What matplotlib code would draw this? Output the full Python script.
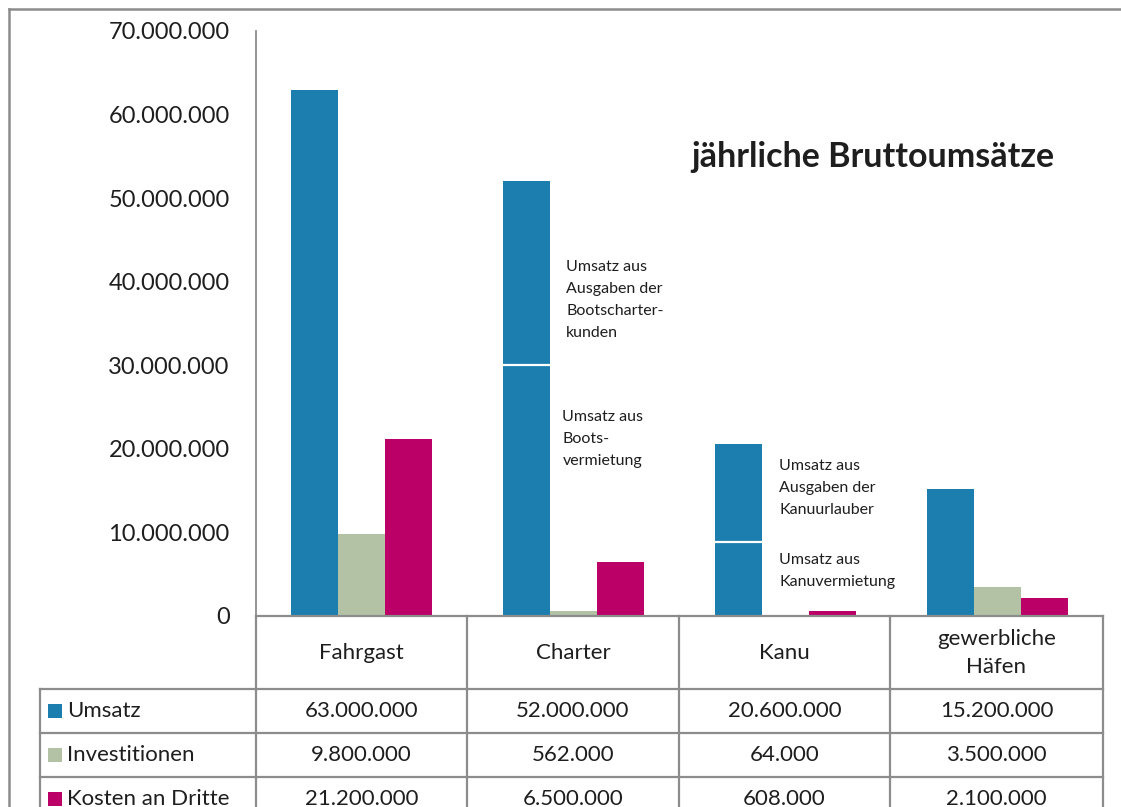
import numpy as np
import matplotlib.pyplot as plt
from matplotlib.lines import Line2D
from matplotlib.patches import Rectangle

plt.rcParams['font.family'] = ['Lato', 'DejaVu Sans']

# Data
categories = ['Fahrgast', 'Charter', 'Kanu', 'gewerbliche\nHäfen']
series_names = ['Umsatz', 'Investitionen', 'Kosten an Dritte']
umsatz = [63_000_000, 52_000_000, 20_600_000, 15_200_000]
investitionen = [9_800_000, 562_000, 64_000, 3_500_000]
kosten = [21_200_000, 6_500_000, 608_000, 2_100_000]
# Split of Umsatz into rental vs. spending of customers (Charter, Kanu)
umsatz_split = [None, 30_000_000, 8_800_000, None]
yticks = np.arange(0, 70_000_001, 10_000_000)

colors = ['#1b7eae', '#b3c2a5', '#bb0068']
grid_col = '#8c8c8c'
txt_col = '#1e1e1e'

W, H = 1121, 807
fig = plt.figure(figsize=(W / 100, H / 100), dpi=100)

def fx(px):
    return px / W

def fy(py):
    return 1 - py / H

# plot area in pixel coordinates
x0, x1 = 256, 1103
y_top, y_zero = 31, 616
ax = fig.add_axes([fx(x0), fy(y_zero), fx(x1) - fx(x0), fy(y_top) - fy(y_zero)])
ax.set_xlim(-0.5, 3.5)
ax.set_ylim(0, 70_000_000)

x = np.arange(len(categories))
bw = 0.222
for i, (vals, c) in enumerate(zip([umsatz, investitionen, kosten], colors)):
    ax.bar(x + (i - 1) * bw, vals, width=bw, color=c, linewidth=0)

# white separator inside the split Umsatz bars
for xi, s in zip(x, umsatz_split):
    if s is not None:
        ax.plot([xi - 1.5 * bw, xi - 0.5 * bw], [s, s], color='white', lw=1.6)

for sp in ['top', 'right', 'bottom']:
    ax.spines[sp].set_visible(False)
ax.spines['left'].set_color(grid_col)
ax.spines['left'].set_linewidth(1.3)
ax.set_xticks([])
ax.set_yticks(yticks)
ax.set_yticklabels([f'{v:,}'.replace(',', '.') for v in yticks], fontsize=17, color=txt_col)
ax.tick_params(axis='y', length=0, pad=19)

# annotations for the split bars
ann = dict(fontsize=11.5, color=txt_col, ha='left', va='center', linespacing=1.75)
ax.text(0.965, 37.8e6, 'Umsatz aus\nAusgaben der\nBootscharter-\nkunden', **ann)
ax.text(0.947, 21.2e6, 'Umsatz aus\nBoots-\nvermietung', **ann)
ax.text(1.97, 15.3e6, 'Umsatz aus\nAusgaben der\nKanuurlauber', **ann)
ax.text(1.97, 5.4e6, 'Umsatz aus\nKanuvermietung', **ann)

fig.text(fx(873), fy(157), 'jährliche Bruttoumsätze', fontsize=24.5, fontweight='bold',
         color=txt_col, ha='center', va='center')

# outer frame
def hline(y, xa, xb, lw=1.6):
    fig.add_artist(Line2D([fx(xa), fx(xb)], [fy(y), fy(y)], color=grid_col, lw=lw))

def vline(xp, ya, yb, lw=1.6):
    fig.add_artist(Line2D([fx(xp), fx(xp)], [fy(ya), fy(yb)], color=grid_col, lw=lw))

hline(9, 9, W + 5, lw=1.8)
vline(9, 9, H + 5, lw=1.8)

# data table below the chart
bounds = [256, 467, 679, 890, 1103]
row_lines = [616, 689, 733, 777, 821]
hline(616, 256, 1103)
for yl in row_lines[1:]:
    hline(yl, 40, 1103)
for xb in bounds:
    vline(xb, 616, H + 5)
vline(40, 689, H + 5)

for ci, cat in enumerate(categories):
    cx = (bounds[ci] + bounds[ci + 1]) / 2
    fig.text(fx(cx), fy(653), cat, fontsize=16, color=txt_col, ha='center', va='center',
             linespacing=1.45)

for ri, (name, vals, c) in enumerate(zip(series_names, [umsatz, investitionen, kosten], colors)):
    cy = (row_lines[ri + 1] + row_lines[ri + 2]) / 2
    fig.add_artist(Rectangle((fx(48), fy(cy + 7)), fx(14), fy(cy - 7) - fy(cy + 7),
                             color=c, lw=0))
    fig.text(fx(67), fy(cy), name, fontsize=16, color=txt_col, ha='left', va='center')
    for ci, v in enumerate(vals):
        cx = (bounds[ci] + bounds[ci + 1]) / 2
        fig.text(fx(cx), fy(cy), f'{v:,}'.replace(',', '.'), fontsize=16, color=txt_col,
                 ha='center', va='center')

fig.savefig('out.png', dpi=100, facecolor='white')
